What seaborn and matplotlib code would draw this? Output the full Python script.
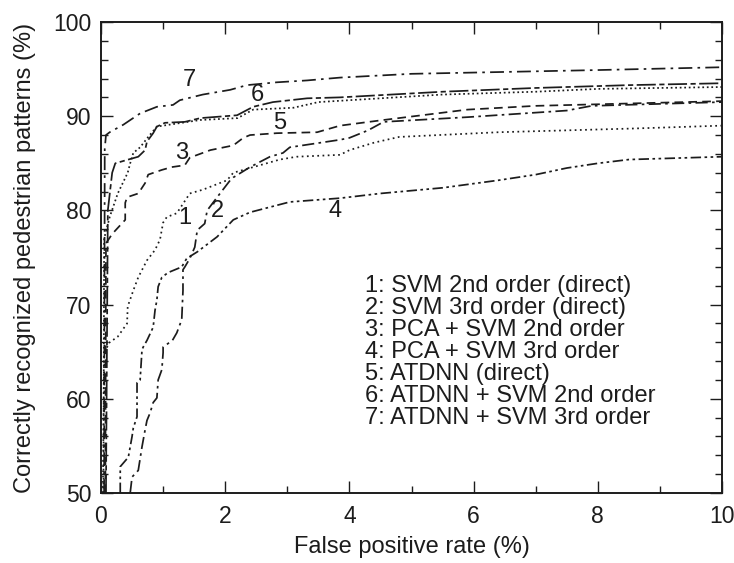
import matplotlib
matplotlib.use("Agg")
import matplotlib.pyplot as plt
import numpy as np
import pandas as pd
import seaborn as sns
from matplotlib.ticker import MultipleLocator

# ROC curves: false positive rate (%) against correctly recognized patterns (%)
fp_1 = [0.03, 0.05, 0.12, 0.27, 0.42, 0.43, 0.52, 0.60, 0.74, 0.87, 0.95, 1.00, 1.06,
        1.22, 1.43, 1.64, 2.03, 2.13, 2.40, 2.88, 3.15, 3.85, 4.00, 4.40, 4.80, 6.40, 8.60, 10.0]
rate_1 = [50.0, 64.5, 65.9, 66.6, 68.0, 69.8, 71.5, 72.9, 74.7, 75.8, 76.9, 78.7, 79.3,
          79.7, 81.8, 82.2, 83.2, 84.0, 84.5, 85.4, 85.7, 85.9, 86.4, 87.2, 87.8, 88.3, 88.7, 89.0]

fp_2 = [0.47, 0.50, 0.60, 0.66, 0.71, 0.74, 0.79, 0.84, 0.90, 0.92, 0.98, 1.00, 1.00, 1.15,
        1.22, 1.30, 1.32, 1.32, 1.35, 1.43, 1.51, 1.55, 1.67, 1.71, 1.87, 2.08, 2.13, 2.40,
        2.72, 2.93, 3.04, 3.85, 4.00, 4.30, 4.55, 5.90, 7.50, 7.90, 10.0]
rate_2 = [50.0, 51.7, 52.4, 54.9, 56.7, 57.7, 58.5, 59.6, 60.1, 62.0, 63.1, 64.9, 65.5, 66.2,
          67.0, 68.4, 71.5, 73.7, 74.0, 74.9, 76.1, 77.9, 78.6, 80.0, 81.4, 83.2, 83.5, 84.6,
          85.7, 86.1, 86.7, 87.5, 87.7, 88.5, 89.4, 89.9, 90.6, 91.1, 91.5]

fp_3 = [0.07, 0.08, 0.18, 0.39, 0.39, 0.42, 0.60, 0.71, 0.76, 0.98, 1.14, 1.35, 1.43, 1.76,
        2.13, 2.29, 2.40, 2.83, 3.48, 3.85, 4.55, 5.90, 7.00, 10.0]
rate_3 = [50.0, 76.5, 77.5, 79.0, 80.8, 81.4, 81.8, 82.9, 83.8, 84.3, 84.6, 84.8, 85.6, 86.4,
          86.9, 87.7, 88.0, 88.2, 88.3, 89.0, 89.6, 90.7, 91.1, 91.6]

fp_4 = [0.31, 0.31, 0.44, 0.50, 0.52, 0.58, 0.58, 0.63, 0.66, 0.68, 0.74, 0.84, 0.87, 0.90,
        0.92, 0.98, 1.08, 1.19, 1.30, 1.38, 1.55, 1.87, 2.13, 2.40, 3.04, 3.85, 4.50, 5.50,
        6.40, 7.00, 7.50, 8.00, 8.50, 10.0]
rate_4 = [50.0, 52.8, 53.8, 56.0, 56.9, 58.1, 61.7, 62.0, 65.2, 65.5, 66.2, 67.6, 69.4, 70.5,
          71.9, 72.9, 73.4, 73.7, 74.0, 74.9, 75.6, 77.2, 79.0, 79.8, 80.9, 81.3, 81.8, 82.4,
          83.2, 83.8, 84.5, 85.0, 85.4, 85.7]

fp_5 = [0.04, 0.05, 0.14, 0.27, 0.43, 0.47, 0.52, 0.63, 0.76, 0.90, 1.20, 1.60, 2.20, 2.45,
        3.10, 3.50, 4.50, 5.50, 7.00, 8.00, 10.0]
rate_5 = [50.0, 77.0, 79.3, 81.8, 84.0, 85.0, 86.1, 86.7, 87.8, 88.9, 89.2, 89.6, 89.8, 90.7,
          90.9, 91.5, 91.9, 92.3, 92.6, 92.9, 93.1]

fp_6 = [0.08, 0.10, 0.11, 0.18, 0.23, 0.44, 0.60, 0.71, 0.74, 0.84, 0.90, 1.03, 1.35, 1.60,
        2.19, 2.45, 2.77, 3.32, 3.85, 5.50, 7.00, 8.50, 10.0]
rate_6 = [50.0, 70.0, 80.0, 84.0, 85.0, 85.4, 85.7, 86.4, 87.3, 88.2, 88.9, 89.3, 89.4, 89.8,
          90.1, 91.0, 91.5, 91.9, 92.0, 92.6, 93.0, 93.3, 93.5]

fp_7 = [0.05, 0.06, 0.08, 0.14, 0.36, 0.63, 0.90, 1.16, 1.27, 1.64, 2.08, 2.35, 2.83, 3.32,
        3.85, 5.00, 6.50, 8.00, 10.0]
rate_7 = [50.0, 86.5, 88.0, 88.3, 89.1, 90.3, 91.0, 91.2, 91.7, 92.3, 92.8, 93.3, 93.6, 93.8,
          94.1, 94.5, 94.7, 94.9, 95.2]

curve_tags = ["1", "2", "3", "4", "5", "6", "7"]
curve_names = [
    "1: SVM 2nd order (direct)",
    "2: SVM 3rd order (direct)",
    "3: PCA + SVM 2nd order",
    "4: PCA + SVM 3rd order",
    "5: ATDNN (direct)",
    "6: ATDNN + SVM 2nd order",
    "7: ATDNN + SVM 3rd order",
]
x_ticks = [0, 2, 4, 6, 8, 10]
y_ticks = [50, 60, 70, 80, 90, 100]

fps = [fp_1, fp_2, fp_3, fp_4, fp_5, fp_6, fp_7]
rates = [rate_1, rate_2, rate_3, rate_4, rate_5, rate_6, rate_7]
df = pd.concat(
    [pd.DataFrame({"fp": f, "rate": r, "curve": t}) for f, r, t in zip(fps, rates, curve_tags)],
    ignore_index=True,
)

sns.set_theme(style="ticks")
plt.rcParams["font.family"] = ["Liberation Sans", "DejaVu Sans"]

ink = "#1c1c1c"
dash_styles = {
    "1": (1.0, 2.0),
    "2": (7.0, 2.5, 1.5, 2.5),
    "3": (5.0, 3.0),
    "4": (6.0, 2.0, 1.5, 2.0, 1.5, 2.0),
    "5": (1.0, 1.6),
    "6": (11.0, 2.0, 3.0, 2.0),
    "7": (8.0, 3.0, 1.5, 3.0),
}

fig = plt.figure(figsize=(7.34, 5.63), dpi=100)
ax = fig.add_axes([0.1376, 0.1243, 0.8461, 0.8366])

sns.lineplot(
    data=df, x="fp", y="rate", hue="curve", style="curve",
    palette={t: ink for t in curve_tags}, dashes=dash_styles,
    estimator=None, sort=False, legend=False, linewidth=1.25, ax=ax,
)

ax.set_xlim(0, 10)
ax.set_ylim(50, 100)
ax.set_xticks(x_ticks)
ax.set_yticks(y_ticks)
ax.xaxis.set_minor_locator(MultipleLocator(1))
ax.yaxis.set_minor_locator(MultipleLocator(2))
ax.tick_params(which="both", direction="in", top=True, right=True, color=ink, width=1.0,
               labelsize=16.5, labelcolor=ink)
ax.tick_params(which="major", length=8.5)
ax.tick_params(which="minor", length=5)
ax.tick_params(axis="x", which="major", pad=8.5)
ax.tick_params(axis="y", which="major", pad=7)
for side in ax.spines.values():
    side.set_visible(True)
    side.set_color(ink)
    side.set_linewidth(1.4)

ax.set_xlabel("False positive rate (%)", fontsize=17, color=ink)
ax.set_ylabel("Correctly recognized pedestrian patterns (%)", fontsize=17, color=ink)
ax.xaxis.set_label_coords(0.5, -0.092)
ax.yaxis.set_label_coords(-0.104, 0.5)

# numbers written next to each curve
tag_x = [1.35, 1.88, 1.30, 3.77, 2.88, 2.51, 1.43]
tag_y = [79.2, 79.9, 86.1, 79.9, 89.3, 92.2, 93.8]
for t, tx, ty in zip(curve_tags, tag_x, tag_y):
    ax.text(tx, ty, t, fontsize=17, color=ink, ha="center", va="center")

# key of method names, set as one block of lines
ax.text(4.25, 65.0, "\n".join(curve_names), fontsize=17, color=ink,
        ha="left", va="center", multialignment="left", linespacing=1.0)

fig.savefig("out.png", dpi=100, facecolor="white")
